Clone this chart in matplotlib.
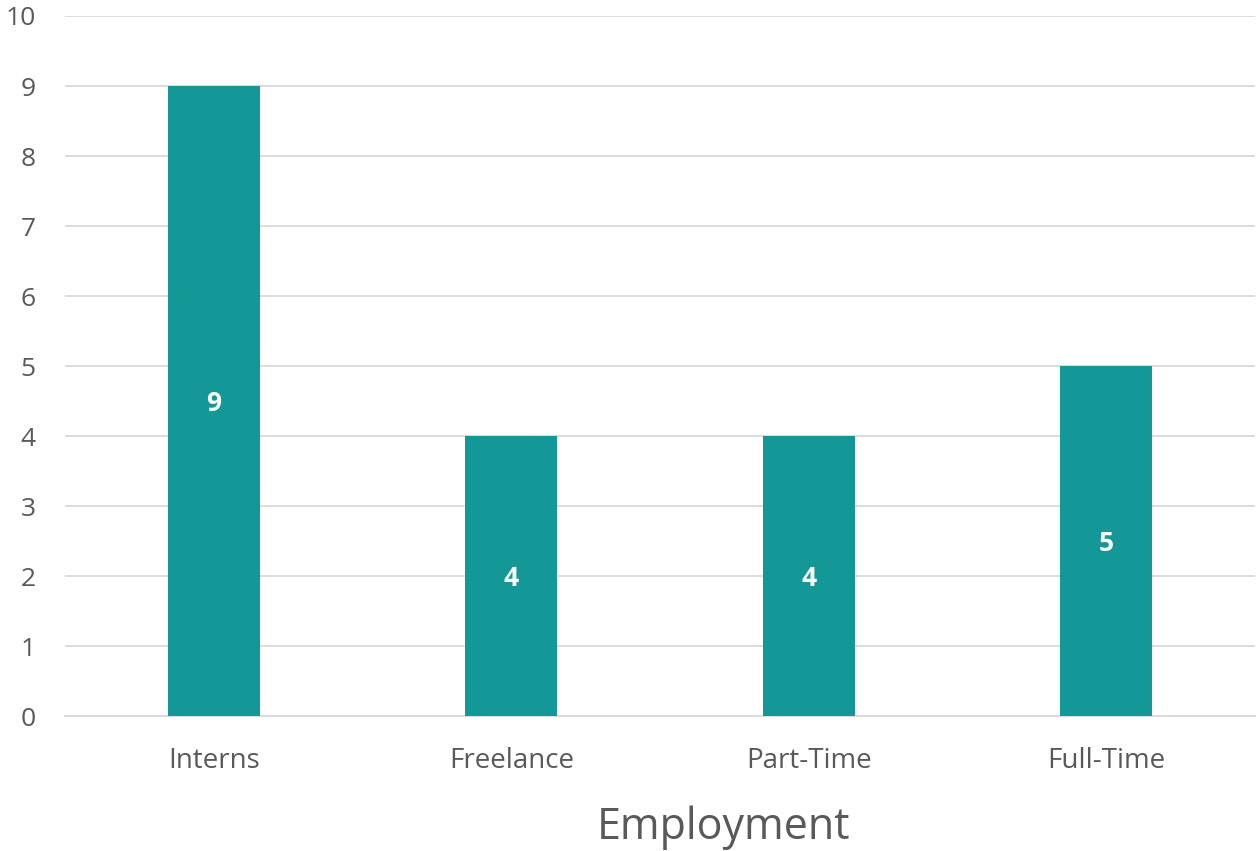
import matplotlib
matplotlib.use("Agg")
import matplotlib.pyplot as plt

categories = ["Interns", "Freelance", "Part-Time", "Full-Time"]
counts = [9, 4, 4, 5]
y_ticks = list(range(0, 11))

plt.rcParams['font.family'] = ['Open Sans', 'DejaVu Sans']

fig = plt.figure(figsize=(12.56, 8.51), dpi=100)
ax = fig.add_axes([0.0518, 0.1586, 0.9474, 0.8226])

bar_color = '#139797'
x = range(len(categories))
bars = ax.bar(x, counts, width=0.31, color=bar_color, zorder=3)

for b, v in zip(bars, counts):
    ax.text(b.get_x() + b.get_width() / 2, v / 2 - 0.03, str(v), ha='center', va='center',
            color='white', fontsize=19, fontweight='bold', zorder=4)

ax.set_xlim(-0.5, len(categories) - 0.5)
ax.set_ylim(0, 10)
ax.set_yticks(y_ticks)
ax.set_xticks(list(x))
ax.set_xticklabels(categories)

ax.grid(axis='y', color='#d9d9d9', linewidth=1.3, zorder=0)
ax.set_axisbelow(True)
for s in ['top', 'right', 'left']:
    ax.spines[s].set_visible(False)
ax.spines['bottom'].set_color('#d9d9d9')
ax.spines['bottom'].set_linewidth(1.3)

ax.tick_params(axis='both', length=0, labelsize=19, labelcolor='#595959')
ax.tick_params(axis='y', pad=21)
ax.tick_params(axis='x', pad=22)
ax.tick_params(axis='x', labelsize=20)

ax.set_xlabel("Employment", fontsize=31, color='#595959')
ax.xaxis.label.set_verticalalignment('center')
ax.xaxis.set_label_coords(0.553, -0.159)

fig.savefig("out.png", dpi=100)
